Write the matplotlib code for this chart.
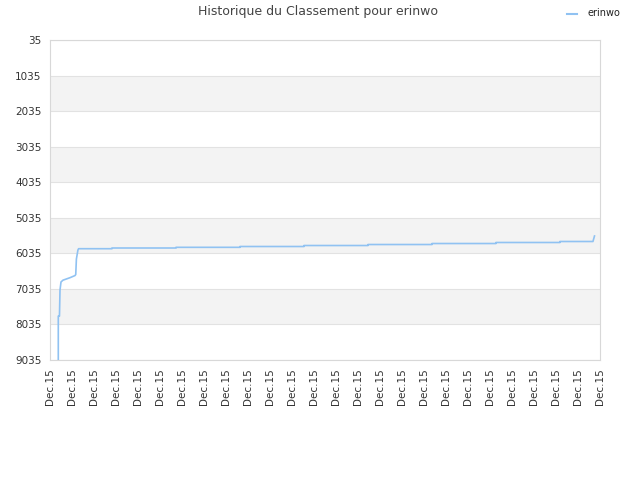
import matplotlib
matplotlib.use("Agg")
import matplotlib.pyplot as plt
from matplotlib.lines import Line2D

title = "Historique du Classement pour erinwo"
series_name = "erinwo"
tick_labels = ["Dec.15"] * 26
y_ticks = [35, 1035, 2035, 3035, 4035, 5035, 6035, 7035, 8035, 9035]

# x: position along the date axis (tick units), rank: classement
x_vals = [0.377, 0.377, 0.43, 0.455, 0.5, 0.59, 0.727, 0.909, 1.136, 1.17, 1.2, 1.27, 1.30,
          2.818, 2.818, 5.727, 5.727, 8.636, 8.636, 11.545, 11.545, 14.455, 14.455,
          17.364, 17.364, 20.27, 20.27, 23.18, 23.18, 24.68, 24.75]
rank = [9035, 7800, 7800, 7066, 6841, 6790, 6760, 6720, 6660, 6630, 6194, 5941, 5905,
        5905, 5885, 5885, 5866, 5866, 5843, 5843, 5815, 5815, 5787,
        5787, 5759, 5759, 5730, 5730, 5702, 5702, 5547]

line_color = "#90c2f2"

fig = plt.figure(figsize=(6.4, 4.8), dpi=100)
ax = fig.add_axes([50/640, 1-360/480, 550/640, 320/480])

ax.set_xlim(0, 25)
ax.set_ylim(9035, 35)

for i in range(len(y_ticks) - 1):
    if i % 2 == 1:
        ax.axhspan(y_ticks[i], y_ticks[i+1], color="#f3f3f3", zorder=0, lw=0)
for v in y_ticks:
    ax.axhline(v, color="#e2e2e2", lw=0.8, zorder=1)

ax.plot(x_vals, rank, color=line_color, lw=1.2, zorder=3)

ax.set_yticks(y_ticks)
ax.set_yticklabels([str(v) for v in y_ticks], fontsize=7.5, color="#333333")
ax.set_xticks(range(26))
ax.set_xticklabels(tick_labels, rotation=90, fontsize=7.5, color="#333333")
ax.tick_params(length=0, pad=6)

for s in ax.spines.values():
    s.set_color("#d8d8d8")
    s.set_linewidth(0.8)

fig.text(318/640, 1-12/480, title, ha="center", va="center", fontsize=9, color="#444444")
fig.lines.append(Line2D([567/640, 577/640], [1-14/480, 1-14/480], transform=fig.transFigure,
                        color=line_color, lw=1.5))
fig.text(587/640, 1-13/480, series_name, ha="left", va="center", fontsize=7, color="#222222")

fig.savefig("out.png", dpi=100)
